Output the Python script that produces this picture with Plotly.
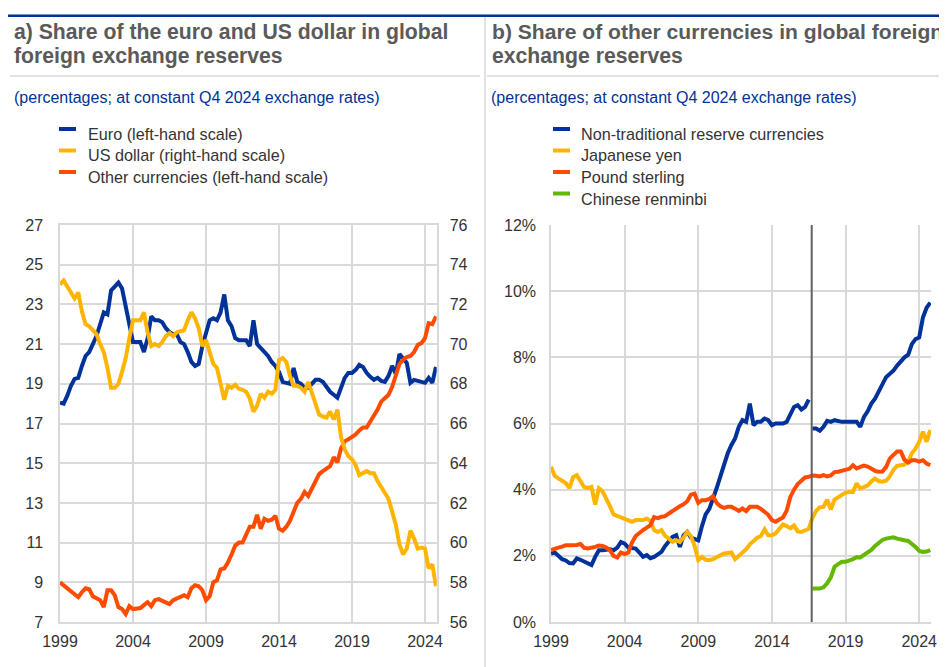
import plotly.graph_objects as go

# Target canvas is 947x667; the page body adds an 8px margin, so the figure itself is
# drawn 8px smaller and all layout pixel positions are expressed in canvas pixels.
CANVAS_W, CANVAS_H = 947, 667
PAGE_MARGIN = 8
W, H = CANVAS_W - PAGE_MARGIN, CANVAS_H - PAGE_MARGIN
FONT = "Arial, 'Liberation Sans', sans-serif"

# ---------------- data (quarterly, 1999 Q1 - 2024 Q4) ----------------
START_YEAR = 1999
N_QUARTERS = 104
DATES = [START_YEAR + q / 4 for q in range(N_QUARTERS)]

TICK_YEARS = [1999, 2004, 2009, 2014, 2019, 2024]
TICK_LABELS = ["1999", "2004", "2009", "2014", "2019", "2024"]
LEFT_TICKS = list(range(7, 28, 2))
RIGHT_TICKS = list(range(56, 77, 2))
PCT_TICKS = list(range(0, 13, 2))
PCT_LABELS = [f"{v}%" for v in PCT_TICKS]

# Panel a)
EURO = [18.05, 18.0, 18.4, 18.9, 19.25, 19.3, 19.9, 20.4, 20.6, 21.0, 21.4, 22.0,
        22.6, 22.5, 23.7, 23.9, 24.1, 23.8, 23.0, 22.0, 21.1, 21.1, 21.1, 20.6,
        21.3, 22.4, 22.2, 22.2, 22.1, 21.8, 21.6, 21.5, 21.5, 21.1, 21.0, 20.6,
        20.1, 19.9, 20.0, 20.9, 21.5, 22.2, 22.3, 22.2, 22.6, 23.5, 22.2, 21.9,
        21.3, 21.2, 21.2, 21.2, 20.9, 22.2, 21.0, 20.8, 20.6, 20.4, 20.1, 19.9,
        19.6, 19.1, 19.05, 19.0, 19.8, 19.1, 19.0, 18.8, 18.8, 19.0, 19.2, 19.2,
        19.1, 18.85, 18.6, 18.45, 18.3, 18.8, 19.3, 19.55, 19.55, 19.7, 19.95, 19.85,
        19.55, 19.35, 19.2, 19.3, 19.15, 19.1, 19.4, 19.9, 19.5, 20.5, 20.3, 20.05,
        19.05, 19.2, 19.15, 19.1, 19.05, 19.3, 19.05, 19.85]
US_DOLLAR = [73.0, 73.2, 72.9, 72.55, 72.3, 72.6, 71.65, 71.0, 70.9, 70.7, 70.5, 70.0,
             69.6, 68.8, 67.8, 67.8, 68.0, 68.6, 69.3, 70.3, 71.2, 71.2, 71.2, 71.6,
             70.6, 69.9, 70.0, 69.9, 70.1, 70.4, 70.55, 70.4, 70.6, 70.65, 70.7, 71.2,
             71.6, 71.3, 70.8, 69.9, 70.2, 69.6, 69.0, 68.8, 68.0, 67.2, 67.9, 67.8,
             67.95, 67.75, 67.7, 67.6, 67.25, 66.6, 66.9, 67.5, 67.3, 67.6, 67.5, 67.7,
             69.2, 69.3, 69.1, 68.4, 67.9, 67.9, 67.8, 67.6, 68.1, 67.5, 66.9, 66.45,
             66.35, 66.3, 66.6, 66.2, 66.7, 65.3, 64.7, 64.35, 64.2, 63.9, 63.4, 63.5,
             63.6, 63.5, 63.5, 63.1, 62.75, 62.5, 62.2, 61.5, 60.9, 59.9, 59.4, 59.7,
             60.6, 60.2, 59.7, 59.75, 59.7, 58.7, 58.9, 57.8]
OTHER = [9.0, 8.85, 8.7, 8.6, 8.45, 8.25, 8.5, 8.7, 8.65, 8.3, 8.2, 8.1,
         7.75, 8.6, 8.6, 8.35, 7.75, 7.65, 7.4, 7.8, 7.65, 7.65, 7.7, 7.85,
         8.0, 7.8, 8.1, 8.15, 8.05, 8.0, 7.9, 8.1, 8.2, 8.25, 8.35, 8.25,
         8.7, 8.85, 8.8, 8.6, 8.1, 8.3, 9.0, 9.1, 9.65, 9.7, 10.0, 10.4,
         10.85, 11.0, 11.0, 11.4, 11.8, 11.8, 12.4, 11.7, 12.2, 12.1, 12.15, 12.35,
         11.7, 11.6, 11.8, 12.1, 12.5, 13.0, 13.2, 13.55, 13.35, 13.7, 14.0, 14.45,
         14.6, 14.7, 14.85, 15.3, 15.05, 15.75, 16.1, 16.2, 16.3, 16.45, 16.65, 16.8,
         16.8, 17.1, 17.35, 17.7, 18.1, 18.3, 18.45, 18.85, 19.5, 20.0, 20.2, 20.35,
         20.4, 20.6, 20.95, 21.05, 21.3, 22.05, 22.0, 22.4]

# Panel b)
NON_TRADITIONAL = [2.07, 2.1, 2.0, 1.9, 1.86, 1.78, 1.77, 1.92, 1.88, 1.83, 1.78, 1.72,
                   1.97, 2.17, 2.17, 2.2, 2.2, 2.17, 2.25, 2.42, 2.37, 2.25, 2.22, 2.22,
                   2.1, 1.97, 2.02, 1.93, 1.97, 2.05, 2.12, 2.3, 2.45, 2.57, 2.62, 2.27,
                   2.62, 2.72, 2.55, 2.52, 2.47, 2.9, 3.25, 3.42, 3.7, 4.05, 4.4, 4.8,
                   5.1, 5.35, 5.55, 5.9, 6.1, 6.05, 6.6, 5.95, 6.05, 6.05, 6.15, 6.1,
                   5.95, 6.0, 6.0, 6.0, 6.05, 6.3, 6.5, 6.55, 6.42, 6.5, 6.72, 5.85,
                   5.85, 5.78, 5.9, 6.08, 6.05, 6.1, 6.07, 6.05, 6.05, 6.05, 6.05, 6.05,
                   5.9, 6.2, 6.37, 6.6, 6.75, 6.95, 7.15, 7.4, 7.5, 7.6, 7.75, 7.9,
                   8.0, 8.08, 8.4, 8.55, 8.6, 9.2, 9.5, 9.65]
JAPANESE_YEN = [4.69, 4.42, 4.34, 4.26, 4.2, 4.05, 4.38, 4.44, 4.27, 4.08, 4.05, 4.08,
                3.55, 4.04, 3.95, 3.75, 3.5, 3.25, 3.2, 3.18, 3.12, 3.06, 3.03, 3.08,
                3.08, 3.08, 3.13, 3.05, 2.78, 2.72, 2.78, 2.6, 2.52, 2.42, 2.47, 2.42,
                2.55, 2.72, 2.6, 2.3, 1.87, 1.97, 1.88, 1.87, 1.9, 1.97, 2.02, 2.07,
                2.1, 2.1, 1.9, 2.0, 2.14, 2.2, 2.35, 2.47, 2.55, 2.6, 2.8, 2.62,
                2.62, 2.68, 2.8, 2.95, 2.9, 2.83, 2.92, 2.74, 2.72, 2.76, 2.82, 3.15,
                3.36, 3.47, 3.48, 3.7, 3.4, 3.7, 3.78, 3.86, 3.91, 3.93, 3.93, 4.19,
                4.04, 4.08, 4.13, 4.25, 4.34, 4.26, 4.24, 4.27, 4.4, 4.6, 4.72, 4.74,
                4.76, 4.85, 5.1, 5.24, 5.45, 5.75, 5.45, 5.8]
POUND_STERLING = [2.17, 2.22, 2.25, 2.28, 2.32, 2.32, 2.32, 2.33, 2.36, 2.24, 2.22, 2.23,
                  2.27, 2.31, 2.3, 2.25, 2.17, 2.0, 1.95, 2.1, 2.05, 2.1, 2.4, 2.6,
                  2.7, 2.78, 2.85, 2.93, 3.17, 3.14, 3.18, 3.2, 3.28, 3.36, 3.43, 3.5,
                  3.56, 3.65, 3.85, 3.88, 3.6, 3.68, 3.68, 3.72, 3.8, 3.6, 3.5, 3.45,
                  3.48, 3.48, 3.42, 3.36, 3.43, 3.35, 3.48, 3.48, 3.48, 3.42, 3.32, 3.24,
                  3.08, 3.03, 3.1, 3.16, 3.36, 3.78, 4.0, 4.17, 4.27, 4.37, 4.39, 4.43,
                  4.42, 4.4, 4.44, 4.4, 4.43, 4.53, 4.54, 4.56, 4.59, 4.63, 4.74, 4.64,
                  4.69, 4.73, 4.7, 4.63, 4.57, 4.54, 4.55, 4.68, 4.94, 5.05, 5.15, 5.15,
                  4.9, 4.82, 4.89, 4.89, 4.85, 4.89, 4.79, 4.74]
# Chinese renminbi: reported from 2016 Q4 onwards (series break)
BREAK_INDEX = 71
BREAK_X = 2016.7
CHINESE_RENMINBI = [1.01, 1.01, 1.01, 1.05, 1.17, 1.35, 1.67, 1.75, 1.82, 1.82, 1.85,
                    1.9, 1.96, 1.95, 2.03, 2.1, 2.18, 2.3, 2.4, 2.48, 2.52, 2.55,
                    2.56, 2.52, 2.48, 2.47, 2.45, 2.37, 2.27, 2.15, 2.12, 2.13, 2.17]

NAMES_A = ["Euro (left-hand scale)", "US dollar (right-hand scale)",
           "Other currencies (left-hand scale)"]
NAMES_B = ["Non-traditional reserve currencies", "Japanese yen", "Pound sterling",
           "Chinese renminbi"]

BLUE, YELLOW, ORANGE, GREEN = "#003299", "#FFB400", "#FF4B00", "#65B800"
GRID = "#d9d9d9"
TXT = "#333333"
LW = 4


def fx(p):
    return (p - PAGE_MARGIN) / W


def fy(p):
    return 1 - (p - PAGE_MARGIN) / H


fig = go.Figure()

# ---- panel a
fig.add_trace(go.Scatter(x=DATES, y=EURO, name=NAMES_A[0], mode="lines",
                         line=dict(color=BLUE, width=LW), xaxis="x", yaxis="y"))
fig.add_trace(go.Scatter(x=DATES, y=OTHER, name=NAMES_A[2], mode="lines",
                         line=dict(color=ORANGE, width=LW), xaxis="x", yaxis="y"))
fig.add_trace(go.Scatter(x=DATES, y=US_DOLLAR, name=NAMES_A[1], mode="lines",
                         line=dict(color=YELLOW, width=LW), xaxis="x", yaxis="y2"))

# ---- panel b
fig.add_trace(go.Scatter(x=DATES[:BREAK_INDEX], y=NON_TRADITIONAL[:BREAK_INDEX],
                         name=NAMES_B[0], mode="lines", legendgroup="ntrc",
                         line=dict(color=BLUE, width=LW), xaxis="x2", yaxis="y3"))
fig.add_trace(go.Scatter(x=DATES[BREAK_INDEX:], y=NON_TRADITIONAL[BREAK_INDEX:],
                         name=NAMES_B[0], mode="lines", legendgroup="ntrc",
                         line=dict(color=BLUE, width=LW), xaxis="x2", yaxis="y3"))
fig.add_trace(go.Scatter(x=DATES, y=JAPANESE_YEN, name=NAMES_B[1], mode="lines",
                         line=dict(color=YELLOW, width=LW), xaxis="x2", yaxis="y3"))
fig.add_trace(go.Scatter(x=DATES, y=POUND_STERLING, name=NAMES_B[2], mode="lines",
                         line=dict(color=ORANGE, width=LW), xaxis="x2", yaxis="y3"))
fig.add_trace(go.Scatter(x=DATES[BREAK_INDEX:], y=CHINESE_RENMINBI, name=NAMES_B[3],
                         mode="lines", line=dict(color=GREEN, width=LW),
                         xaxis="x2", yaxis="y3"))

tickfont = dict(family=FONT, size=16, color=TXT)
common = dict(showline=True, linecolor=GRID, linewidth=1.5, ticks="", tickfont=tickfont,
              zeroline=False, automargin=False)
xcommon = dict(range=[1999, 2024.8], tickvals=TICK_YEARS, ticktext=TICK_LABELS,
               showgrid=True, gridcolor=GRID, gridwidth=1.5, ticklabelstandoff=4, **common)
ydom = [fy(622), fy(225)]

fig.update_layout(
    template="none",
    width=W, height=H,
    margin=dict(l=0, r=0, t=0, b=0, pad=0, autoexpand=False),
    paper_bgcolor="white", plot_bgcolor="white",
    showlegend=False,
    font=dict(family=FONT, color=TXT),
    xaxis=dict(domain=[fx(60), fx(436.7)], anchor="y", mirror=True, **xcommon),
    yaxis=dict(domain=ydom, anchor="x", range=[7, 27], tickvals=LEFT_TICKS,
               showgrid=True, gridcolor=GRID, gridwidth=1.5, ticklabelstandoff=12,
               **common),
    yaxis2=dict(overlaying="y", side="right", anchor="x", range=[56, 76],
                tickvals=RIGHT_TICKS, showgrid=False, ticklabelstandoff=8, **common),
    xaxis2=dict(domain=[fx(551), fx(931)], anchor="y3", **xcommon),
    yaxis3=dict(domain=ydom, anchor="x2", range=[0, 12], tickvals=PCT_TICKS,
                ticktext=PCT_LABELS, showgrid=True, gridcolor=GRID, gridwidth=1.5,
                ticklabelstandoff=10, **common),
)

shapes = [
    # top blue rule
    dict(type="rect", xref="paper", yref="paper", x0=fx(6), x1=1, y0=fy(17), y1=fy(14.5),
         fillcolor=BLUE, line=dict(width=0), layer="above"),
    # grey rules under titles
    dict(type="line", xref="paper", yref="paper", x0=fx(10), x1=fx(480), y0=fy(76),
         y1=fy(76), line=dict(color=GRID, width=1.5)),
    dict(type="line", xref="paper", yref="paper", x0=fx(487), x1=1, y0=fy(76),
         y1=fy(76), line=dict(color=GRID, width=1.5)),
    # vertical separator between panels
    dict(type="line", xref="paper", yref="paper", x0=fx(485), x1=fx(485), y0=fy(17),
         y1=0, line=dict(color=GRID, width=1.5)),
    # series break line in panel b
    dict(type="line", xref="x2", yref="y3", x0=BREAK_X, x1=BREAK_X, y0=0, y1=12,
         line=dict(color="#606060", width=2)),
]

annotations = []


def text(x, y, s, size, color=TXT, bold=False):
    annotations.append(dict(xref="paper", yref="paper", x=fx(x), y=fy(y),
                            xanchor="left", yanchor="middle", showarrow=False,
                            text=f"<b>{s}</b>" if bold else s,
                            font=dict(family=FONT, size=size, color=color)))


TITLE_GREY = "#5a5a5a"
text(12, 32, "a) Share of the euro and US dollar in global", 21.2, TITLE_GREY, True)
text(12, 56, "foreign exchange reserves", 21.2, TITLE_GREY, True)
text(490, 32, "b) Share of other currencies in global foreign", 21.1, TITLE_GREY, True)
text(490, 56, "exchange reserves", 21.2, TITLE_GREY, True)
text(12, 98, "(percentages; at constant Q4 2024 exchange rates)", 16, BLUE)
text(489, 98, "(percentages; at constant Q4 2024 exchange rates)", 16, BLUE)

# legends
leg_rows_a = [134, 155.5, 177]
for name, col, y in zip(NAMES_A, [BLUE, YELLOW, ORANGE], leg_rows_a):
    shapes.append(dict(type="rect", xref="paper", yref="paper", x0=fx(59), x1=fx(76),
                       y0=fy(y - 3), y1=fy(y - 7), fillcolor=col, line=dict(width=0)))
    text(86, y, name, 16.2)

leg_rows_b = [134, 155.5, 177, 198.5]
for name, col, y in zip(NAMES_B, [BLUE, YELLOW, ORANGE, GREEN], leg_rows_b):
    shapes.append(dict(type="rect", xref="paper", yref="paper", x0=fx(553), x1=fx(570),
                       y0=fy(y - 3), y1=fy(y - 7), fillcolor=col, line=dict(width=0)))
    text(579, y, name, 16.2)

fig.update_layout(shapes=shapes, annotations=annotations)
fig.write_html("out.html", config={"displayModeBar": False})
